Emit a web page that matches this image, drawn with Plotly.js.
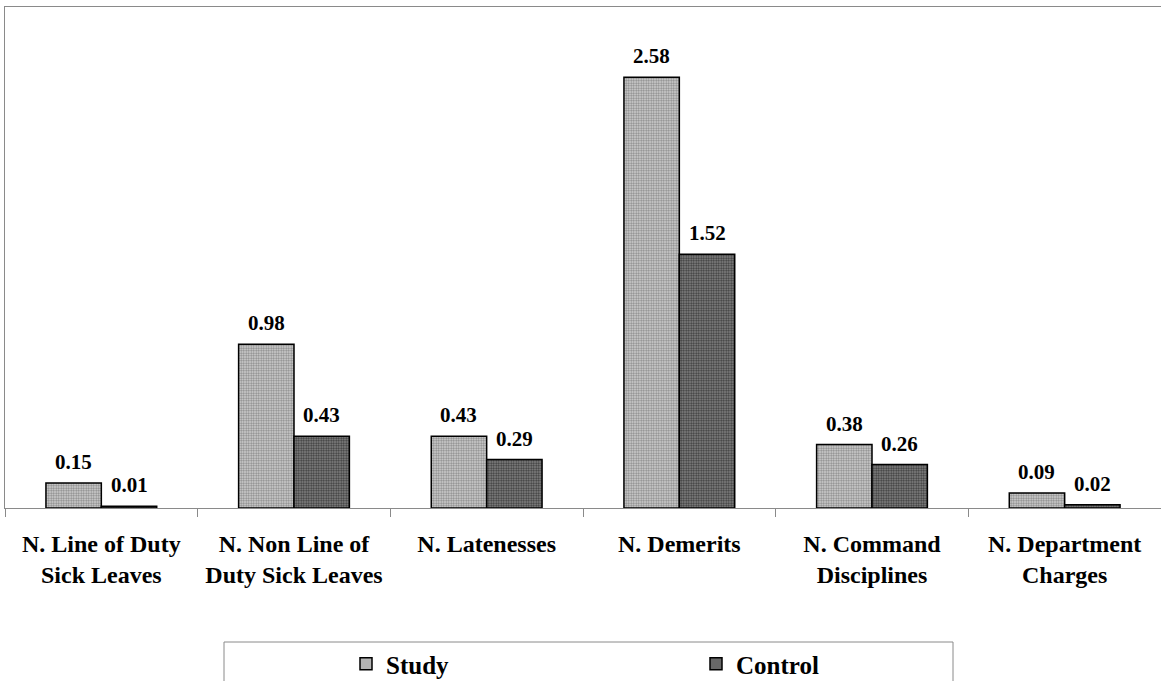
<!DOCTYPE html>
<html>
<head>
<meta charset="utf-8">
<script src="https://cdn.plot.ly/plotly-3.0.1.min.js"></script>
<style>html,body{margin:0;padding:0;background:#fff;overflow:hidden}#chart{width:1161px;height:681px}</style>
</head>
<body>
<div id="chart"></div>
<script>
const categories = [
  "N. Line of Duty<br>Sick Leaves",
  "N. Non Line of<br>Duty Sick Leaves",
  "N. Latenesses",
  "N. Demerits",
  "N. Command<br>Disciplines",
  "N. Department<br>Charges"
];
const seriesNames = ["Study", "Control"];
const studyValues = [0.15, 0.98, 0.43, 2.58, 0.38, 0.09];
const controlValues = [0.01, 0.43, 0.29, 1.52, 0.26, 0.02];

const W = 1161, H = 681;
const margin = {l: 5, r: 0, t: 7, b: 173};
const plotW = W - margin.l - margin.r;
const plotH = H - margin.t - margin.b;
const bargap = 0.425;
const catW = plotW / categories.length;
const barW = catW * (1 - bargap) / 2;

const font = "Liberation Serif, Times New Roman, serif";

const traces = [
  {
    type: "bar", name: seriesNames[0], x: categories, y: studyValues,
    marker: {
      color: "#c8c8c8",
      line: {color: "#000", width: 1.5},
      pattern: {shape: ".", bgcolor: "#d8d8d8", fgcolor: "#888888", size: 2.5, solidity: 0.5}
    },
    hoverinfo: "skip"
  },
  {
    type: "bar", name: seriesNames[1], x: categories, y: controlValues,
    marker: {
      color: "#666666",
      line: {color: "#000", width: 1.5},
      pattern: {shape: ".", bgcolor: "#8c8c8c", fgcolor: "#3a3a3a", size: 2.5, solidity: 0.5}
    },
    hoverinfo: "skip"
  }
];

const annotations = [];
[studyValues, controlValues].forEach((vals, s) => {
  vals.forEach((v, i) => {
    annotations.push({
      x: categories[i], y: v, xref: "x", yref: "y",
      text: "<b>" + v.toFixed(2) + "</b>",
      showarrow: false, yanchor: "bottom", xanchor: "center",
      xshift: (s === 0 ? -1 : 1) * barW / 2, yshift: 7,
      font: {family: font, size: 21, color: "#000"}
    });
  });
});

const px2x = p => (p - margin.l) / plotW;
const py2y = p => (H - margin.b - p) / plotH;

const layout = {
  width: W, height: H,
  margin: margin,
  paper_bgcolor: "#fff", plot_bgcolor: "#fff",
  barmode: "group", bargap: bargap, bargroupgap: 0,
  showlegend: true,
  font: {family: font, color: "#000"},
  xaxis: {
    type: "category",
    showline: true, linecolor: "#8a8a8a", linewidth: 1, mirror: true,
    ticks: "outside", tickson: "boundaries", ticklen: 8, tickcolor: "#8a8a8a", tickwidth: 1,
    ticklabelstandoff: 14,
    tickfont: {family: font, size: 24, color: "#000", weight: "bold"},
    showgrid: false, zeroline: false, fixedrange: true, automargin: false
  },
  yaxis: {
    range: [0, 3],
    showline: true, linecolor: "#8a8a8a", linewidth: 1, mirror: false,
    showticklabels: false, ticks: "", showgrid: false, zeroline: false, fixedrange: true, automargin: false
  },
  legend: {
    orientation: "h",
    xref: "container", yref: "container",
    x: 346 / W, xanchor: "left",
    y: 1 - 664 / H, yanchor: "middle",
    entrywidth: 305, entrywidthmode: "pixels",
    bgcolor: "rgba(0,0,0,0)", borderwidth: 0,
    font: {family: font, size: 25, color: "#000", weight: "bold"},
    traceorder: "normal"
  },
  shapes: [{
    type: "rect", xref: "paper", yref: "paper",
    x0: px2x(224), x1: px2x(953), y0: py2y(642), y1: py2y(700),
    line: {color: "#8a8a8a", width: 1}, fillcolor: "rgba(0,0,0,0)", layer: "below"
  }],
  annotations: annotations
};

Plotly.newPlot("chart", traces, layout, {staticPlot: true, displayModeBar: false});
</script>
</body>
</html>
